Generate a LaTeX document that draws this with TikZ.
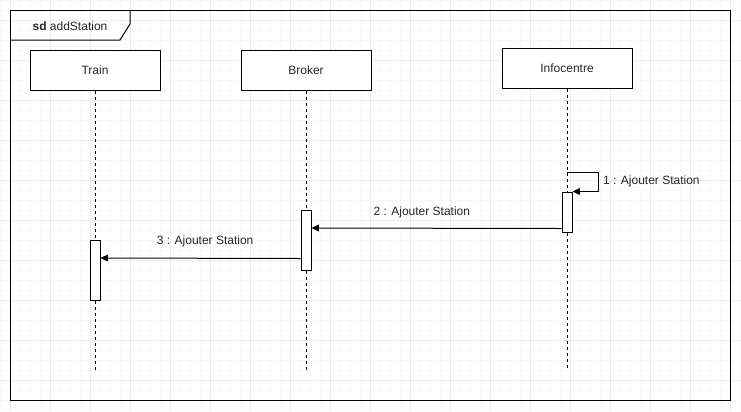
\documentclass[tikz,border=0pt]{standalone}
\usepackage{fontspec}
\setmainfont{Liberation Sans}
\usetikzlibrary{positioning, arrows.meta, calc}

\begin{document}
\begin{tikzpicture}[
  x=0.75pt, y=-0.75pt,
  >={Triangle[length=5.5pt, width=5pt]},
  node distance=0pt and 60pt,
  actor/.style={draw, line width=0.75pt, fill=white, minimum width=97.5pt, minimum height=30pt, inner sep=0pt, text=black!85, font=\fontsize{9}{11}\selectfont},
  actbar/.style={draw, line width=0.75pt, fill=white, minimum width=7.5pt, inner sep=0pt},
  life/.style={dash pattern=on 2.25pt off 2.25pt, line width=0.75pt},
  msg/.style={->, line width=0.75pt},
  lbl/.style={font=\fontsize{9}{11}\selectfont, text=black!85, inner sep=1pt},
  gminor/.style={line width=0.5pt, gray!5},
  gmajor/.style={line width=0.6pt, gray!16},
]

% === Background grid ===
\useasboundingbox (0,0) rectangle (741,411);
\fill[white] (0,0) rectangle (741,411);
\foreach \gx in {0,10,...,740} \draw[gminor] (\gx,0) -- (\gx,411);
\foreach \gy in {0,10,...,410} \draw[gminor] (0,\gy) -- (741,\gy);
\foreach \gx in {10,50,...,730} \draw[gmajor] (\gx,0) -- (\gx,411);
\foreach \gy in {20,60,...,400} \draw[gmajor] (0,\gy) -- (741,\gy);

% === Frame ===
\draw[line width=0.75pt] (10,10) rectangle (730,400);
\draw[line width=0.75pt] (10,40) -- (120,40) -- (130,24) -- (130,10);
\node[lbl] (frame) at (70,26) {\textbf{sd} addStation};

% === Lifeline heads ===
\node[actor] (train) at (95,70) {Train};
\node[actor, right=of train] (broker) {Broker};
\node[actor, right=97.5pt of broker, yshift=1.5pt] (info) {Infocentre};

% === Lifelines ===
\coordinate (trainEnd) at (train.south |- 0,370);
\coordinate (brokerEnd) at (broker.south |- 0,370);
\coordinate (infoEnd) at (info.south |- 0,370);
\draw[life] (train.south) -- (trainEnd);
\draw[life] (broker.south) -- (brokerEnd);
\draw[life] (info.south) -- (infoEnd);

% === Activations ===
\node[actbar, minimum height=30pt] (infoAct) at (info.south |- 0,212) {};
\node[actbar, minimum height=45pt] (brokerAct) at (broker.south |- 0,240) {};
\node[actbar, minimum height=45pt] (trainAct) at (train.south |- 0,270) {};

% === Messages ===
\coordinate (selfStart) at (info.south |- 0,172);
\draw[msg] (selfStart) -- ++(31,0) |- (infoAct.north east)
  node[lbl, anchor=west, pos=0.25, xshift=2.5pt] (m1) {1 : Ajouter Station};

\draw[msg] ($(infoAct.south west)+(0,-4)$) -- ($(brokerAct.east)+(0,-12)$)
  node[lbl, above=6pt, midway, xshift=-11pt] (m2) {2 : Ajouter Station};

\draw[msg] ($(brokerAct.south west)+(0,-12)$) -- ($(trainAct.east)+(0,-12)$)
  node[lbl, above=7pt, midway, xshift=3.5pt] (m3) {3 : Ajouter Station};

\end{tikzpicture}
\end{document}
